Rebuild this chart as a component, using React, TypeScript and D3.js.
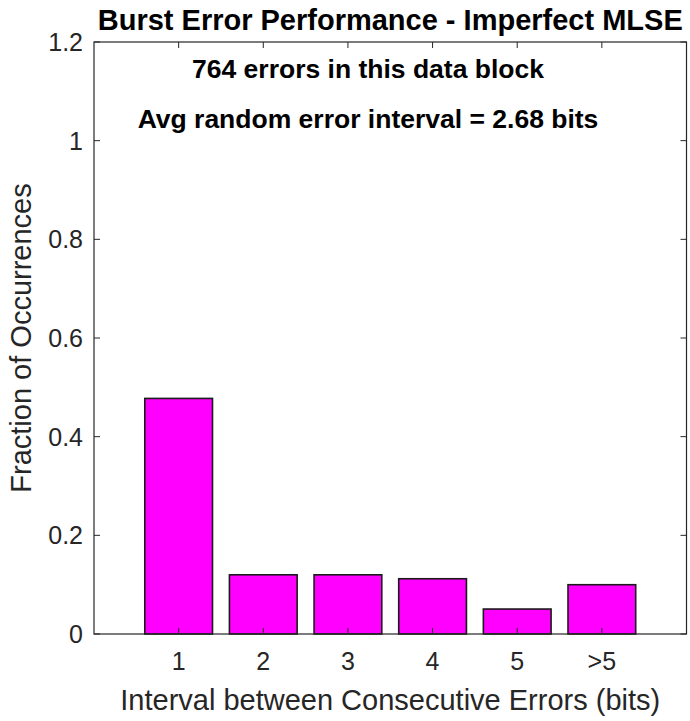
import * as d3 from 'd3';
import React, { useEffect, useRef } from 'react';

// interval categories and fraction of occurrences
const categories = ['1', '2', '3', '4', '5', '>5'];
const fractions = [0.4775, 0.12, 0.12, 0.112, 0.0506, 0.0999];
const yTicks = [0, 0.2, 0.4, 0.6, 0.8, 1, 1.2];
const notes = ['764 errors in this data block', 'Avg random error interval = 2.68 bits'];

const width = 690;
const height = 721;
const margin = { top: 42, right: 3.5, bottom: 87, left: 94 };
const axisColor = '#262626';
const font = '"Liberation Sans", Arial, Helvetica, sans-serif';

const App: React.FC = () => {
  const ref = useRef<SVGSVGElement>(null);

  useEffect(() => {
    const svg = d3.select(ref.current);
    svg.selectAll('*').remove();

    const x = d3
      .scaleLinear()
      .domain([0, categories.length + 1])
      .range([margin.left, width - margin.right]);
    const y = d3
      .scaleLinear()
      .domain([0, 1.2])
      .range([height - margin.bottom, margin.top]);

    // bars, width 0.8 like matlab bar()
    svg
      .append('g')
      .selectAll('rect')
      .data(fractions)
      .join('rect')
      .attr('x', (_d, i) => x(i + 1 - 0.4))
      .attr('width', x(0.8) - x(0))
      .attr('y', (d) => y(d))
      .attr('height', (d) => y(0) - y(d))
      .attr('fill', '#ff00ff')
      .attr('stroke', '#1a1a1a')
      .attr('stroke-width', 1.6);

    // box around the axes
    svg
      .append('rect')
      .attr('x', x(0))
      .attr('y', y(1.2))
      .attr('width', x(categories.length + 1) - x(0))
      .attr('height', y(0) - y(1.2))
      .attr('fill', 'none')
      .attr('stroke', axisColor)
      .attr('stroke-width', 1.2);

    const tickLen = 6;
    const ticks = svg.append('g').attr('stroke', axisColor).attr('stroke-width', 1);
    yTicks.forEach((t) => {
      ticks.append('line').attr('x1', x(0)).attr('x2', x(0) + tickLen).attr('y1', y(t)).attr('y2', y(t));
      ticks
        .append('line')
        .attr('x1', x(categories.length + 1))
        .attr('x2', x(categories.length + 1) - tickLen)
        .attr('y1', y(t))
        .attr('y2', y(t));
    });
    categories.forEach((_c, i) => {
      ticks.append('line').attr('x1', x(i + 1)).attr('x2', x(i + 1)).attr('y1', y(0)).attr('y2', y(0) - tickLen);
      ticks.append('line').attr('x1', x(i + 1)).attr('x2', x(i + 1)).attr('y1', y(1.2)).attr('y2', y(1.2) + tickLen);
    });

    // tick labels
    svg
      .append('g')
      .selectAll('text')
      .data(yTicks)
      .join('text')
      .attr('x', x(0) - 11)
      .attr('y', (d) => y(d))
      .attr('dy', '0.36em')
      .attr('text-anchor', 'end')
      .attr('font-family', font)
      .attr('font-size', 25)
      .attr('fill', axisColor)
      .text((d) => String(d));

    svg
      .append('g')
      .selectAll('text')
      .data(categories)
      .join('text')
      .attr('x', (_d, i) => x(i + 1))
      .attr('y', y(0) + 36)
      .attr('text-anchor', 'middle')
      .attr('font-family', font)
      .attr('font-size', 25)
      .attr('fill', axisColor)
      .text((d) => d);

    // axis labels
    svg
      .append('text')
      .attr('x', (x(0) + x(categories.length + 1)) / 2)
      .attr('y', 710)
      .attr('text-anchor', 'middle')
      .attr('font-family', font)
      .attr('font-size', 29)
      .attr('fill', axisColor)
      .text('Interval between Consecutive Errors (bits)');

    svg
      .append('text')
      .attr('transform', `translate(31,${(y(0) + y(1.2)) / 2}) rotate(-90)`)
      .attr('text-anchor', 'middle')
      .attr('font-family', font)
      .attr('font-size', 29)
      .attr('fill', axisColor)
      .text('Fraction of Occurrences');

    // title
    svg
      .append('text')
      .attr('x', (x(0) + x(categories.length + 1)) / 2)
      .attr('y', 30)
      .attr('text-anchor', 'middle')
      .attr('font-family', font)
      .attr('font-size', 29)
      .attr('font-weight', 'bold')
      .attr('fill', '#000')
      .text('Burst Error Performance - Imperfect MLSE');

    // annotations inside the axes
    svg
      .append('g')
      .selectAll('text')
      .data(notes)
      .join('text')
      .attr('x', 368)
      .attr('y', (_d, i) => 78 + i * 50)
      .attr('text-anchor', 'middle')
      .attr('font-family', font)
      .attr('font-size', 26.5)
      .attr('font-weight', 'bold')
      .attr('fill', '#000')
      .text((d) => d);
  }, []);

  return (
    <svg
      ref={ref}
      width={width}
      height={height}
      viewBox={`0 0 ${width} ${height}`}
      style={{ position: 'absolute', left: 0, top: 0, background: '#fff' }}
    ></svg>
  );
};

export default App;
